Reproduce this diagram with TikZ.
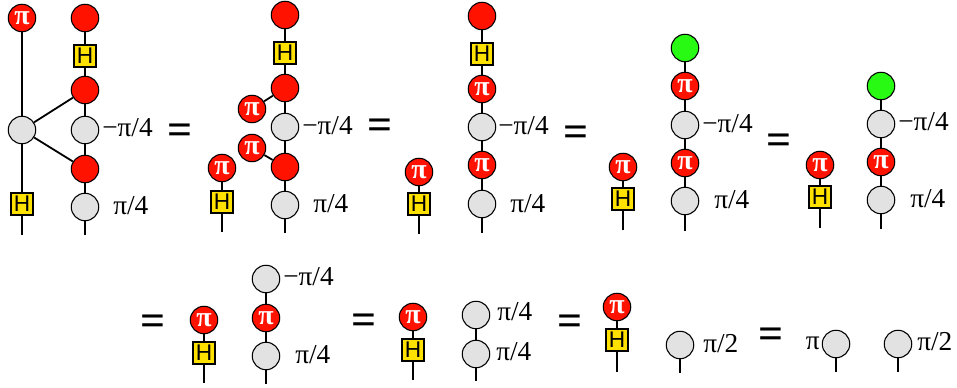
\documentclass[tikz,border=0pt]{standalone}
\usepackage{fontspec}
\setmainfont{Liberation Serif}
\newfontfamily\hfont{Liberation Sans}
\definecolor{rd}{RGB}{255,18,0}
\definecolor{gy}{RGB}{226,226,226}
\definecolor{gn}{RGB}{40,250,20}
\definecolor{yl}{RGB}{255,225,0}
\tikzset{
 spider/.style={circle,draw=black,line width=0.8pt,minimum size=20.6pt,inner sep=0pt},
 rednode/.style={spider,fill=rd},
 pinode/.style={spider,fill=rd,text=white,font=\fontsize{21}{21}\selectfont\bfseries},
 graynode/.style={spider,fill=gy},
 greennode/.style={spider,fill=gn},
 hbox/.style={rectangle,draw=black,line width=1.3pt,fill=yl,minimum size=16.2pt,inner sep=0pt,font=\hfont\fontsize{17}{17}\selectfont},
 wire/.style={line width=1.35pt},
 lab/.style={inner sep=0pt,font=\fontsize{20.5}{20.5}\selectfont},
 eqn/.style={inner sep=0pt,yshift=-2.5pt,font=\fontsize{33}{33}\selectfont\bfseries},
}
\newcommand{\pig}{π}
\begin{document}
\begin{tikzpicture}[x=0.75pt,y=-0.75pt]
\useasboundingbox (0,0) rectangle (957,388);
% Diagram 1
\coordinate (e1a) at (22,235); \coordinate (e1b) at (85,235);
\node[pinode] (a1) at (22,18) {\pig};
\node[graynode] (a2) at (22,130) {};
\node[hbox] (a3) at (22,204) {H};
\node[rednode] (b1) at (85,18) {};
\node[hbox] (b2) at (85,56) {H};
\node[rednode] (b3) at (85,90) {};
\node[graynode] (b4) at (85,130) {};
\node[rednode] (b5) at (85,169) {};
\node[graynode] (b6) at (85,207) {};
\draw[wire] (a1)--(a2); \draw[wire] (a2)--(a3); \draw[wire] (a3)--(e1a);
\draw[wire] (b1)--(b2); \draw[wire] (b2)--(b3); \draw[wire] (b3)--(b4); \draw[wire] (b4)--(b5); \draw[wire] (b5)--(b6); \draw[wire] (b6)--(e1b);
\draw[wire] (a2)--(b3); \draw[wire] (a2)--(b5);
\node[lab,anchor=west] (l1) at (102,128) {−π/4};
\node[lab,anchor=west] (l2) at (113,206) {π/4};
\node[eqn] (q1) at (180,131) {=};
% Diagram 2
\coordinate (e2a) at (222,232); \coordinate (e2b) at (285,233);
\node[rednode] (c1) at (285,15) {};
\node[hbox] (c2) at (285,53) {H};
\node[rednode] (c3) at (285,88) {};
\node[graynode] (c4) at (285,127) {};
\node[rednode] (c5) at (285,167) {};
\node[graynode] (c6) at (285,205) {};
\node[pinode] (c7) at (252,109) {\pig};
\node[pinode] (c8) at (252,148) {\pig};
\node[pinode] (d1) at (222,168) {\pig};
\node[hbox] (d2) at (222,202) {H};
\draw[wire] (c1)--(c2); \draw[wire] (c2)--(c3); \draw[wire] (c3)--(c4); \draw[wire] (c4)--(c5); \draw[wire] (c5)--(c6); \draw[wire] (c6)--(e2b);
\draw[wire] (c7)--(c3); \draw[wire] (c8)--(c5);
\draw[wire] (d1)--(d2); \draw[wire] (d2)--(e2a);
\node[lab,anchor=west] (l3) at (302,126) {−π/4};
\node[lab,anchor=west] (l4) at (313,204) {π/4};
\node[eqn] (q2) at (380,126) {=};
% Diagram 3
\coordinate (e3a) at (419,234); \coordinate (e3b) at (482,233);
\node[rednode] (f1) at (482,16) {};
\node[hbox] (f2) at (482,54) {H};
\node[pinode] (f3) at (482,89) {\pig};
\node[graynode] (f4) at (482,127) {};
\node[pinode] (f5) at (482,165) {\pig};
\node[graynode] (f6) at (482,204) {};
\node[pinode] (g1) at (419,172) {\pig};
\node[hbox] (g2) at (419,204) {H};
\draw[wire] (f1)--(f2); \draw[wire] (f2)--(f3); \draw[wire] (f3)--(f4); \draw[wire] (f4)--(f5); \draw[wire] (f5)--(f6); \draw[wire] (f6)--(e3b);
\draw[wire] (g1)--(g2); \draw[wire] (g2)--(e3a);
\node[lab,anchor=west] (l5) at (498,126) {−π/4};
\node[lab,anchor=west] (l6) at (510,204) {π/4};
\node[eqn] (q3) at (576,133) {=};
% Diagram 4
\coordinate (e4a) at (623,230); \coordinate (e4b) at (685,231);
\node[greennode] (h1) at (685,48) {};
\node[pinode] (h2) at (685,86) {\pig};
\node[graynode] (h3) at (685,125) {};
\node[pinode] (h4) at (685,163) {\pig};
\node[graynode] (h5) at (685,201) {};
\node[pinode] (i1) at (623,167) {\pig};
\node[hbox] (i2) at (623,199) {H};
\draw[wire] (h1)--(h2); \draw[wire] (h2)--(h3); \draw[wire] (h3)--(h4); \draw[wire] (h4)--(h5); \draw[wire] (h5)--(e4b);
\draw[wire] (i1)--(i2); \draw[wire] (i2)--(e4a);
\node[lab,anchor=west] (l7) at (702,124) {−π/4};
\node[lab,anchor=west] (l8) at (714,200) {π/4};
\node[eqn] (q4) at (779,141) {=};
% Diagram 5
\coordinate (e5a) at (820,228); \coordinate (e5b) at (881,229);
\node[greennode] (j1) at (881,86) {};
\node[graynode] (j2) at (881,124) {};
\node[pinode] (j3) at (881,162) {\pig};
\node[graynode] (j4) at (881,200) {};
\node[pinode] (k1) at (820,165) {\pig};
\node[hbox] (k2) at (820,197) {H};
\draw[wire] (j1)--(j2); \draw[wire] (j2)--(j3); \draw[wire] (j3)--(j4); \draw[wire] (j4)--(e5b);
\draw[wire] (k1)--(k2); \draw[wire] (k2)--(e5a);
\node[lab,anchor=west] (l9) at (898,122) {−π/4};
\node[lab,anchor=west] (l10) at (910,199) {π/4};
% Row 2
\node[eqn] (q5) at (153,322) {=};
\coordinate (e6a) at (204,383); \coordinate (e6b) at (266,384);
\node[pinode] (m1) at (204,320) {\pig};
\node[hbox] (m2) at (204,353) {H};
\node[graynode] (n1) at (266,279) {};
\node[pinode] (n2) at (266,318) {\pig};
\node[graynode] (n3) at (266,356) {};
\draw[wire] (m1)--(m2); \draw[wire] (m2)--(e6a);
\draw[wire] (n1)--(n2); \draw[wire] (n2)--(n3); \draw[wire] (n3)--(e6b);
\node[lab,anchor=west] (l11) at (283,277) {−π/4};
\node[lab,anchor=west] (l12) at (295,355) {π/4};
\node[eqn] (q6) at (364,321) {=};
\coordinate (e7a) at (413,380); \coordinate (e7b) at (476,381);
\node[pinode] (o1) at (413,317) {\pig};
\node[hbox] (o2) at (413,350) {H};
\node[graynode] (p1) at (476,315) {};
\node[graynode] (p2) at (476,354) {};
\draw[wire] (o1)--(o2); \draw[wire] (o2)--(e7a);
\draw[wire] (p1)--(p2); \draw[wire] (p2)--(e7b);
\node[lab,anchor=west] (l13) at (497,312) {π/4};
\node[lab,anchor=west] (l14) at (496,352) {π/4};
\node[eqn] (q7) at (570,322) {=};
\coordinate (e8a) at (617,372); \coordinate (e8b) at (680,373);
\node[pinode] (r1) at (617,307) {\pig};
\node[hbox] (r2) at (617,340) {H};
\node[graynode] (s1) at (680,345) {};
\draw[wire] (r1)--(r2); \draw[wire] (r2)--(e8a);
\draw[wire] (s1)--(e8b);
\node[lab,anchor=west] (l15) at (703,344) {π/2};
\node[eqn] (q8) at (771,335) {=};
\coordinate (e9a) at (836,372); \coordinate (e9b) at (898,372);
\node[lab,anchor=east] (l16) at (820,343) {π};
\node[graynode] (t1) at (836,344) {};
\node[graynode] (t2) at (898,344) {};
\draw[wire] (t1)--(e9a);
\draw[wire] (t2)--(e9b);
\node[lab,anchor=west] (l17) at (917,342) {π/2};
\end{tikzpicture}
\end{document}
